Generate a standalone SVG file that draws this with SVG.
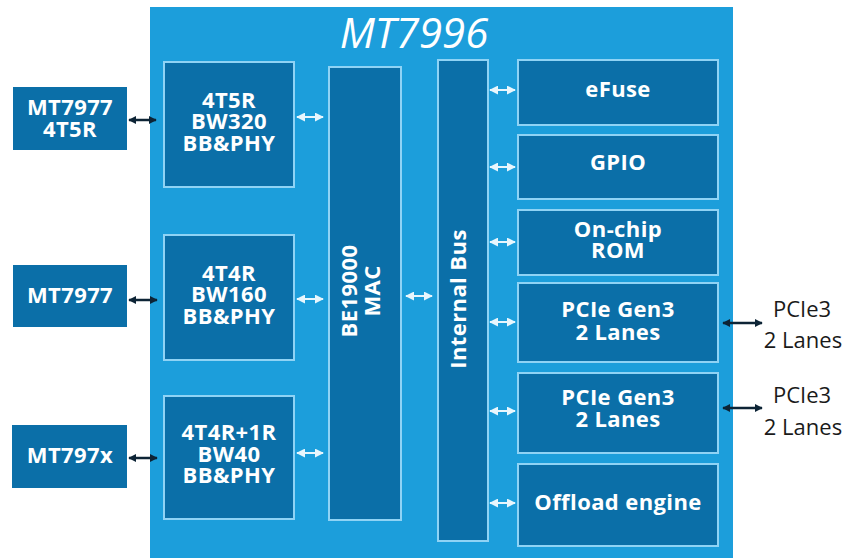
<svg xmlns="http://www.w3.org/2000/svg" width="847" height="558" viewBox="0 0 847 558">
<defs>
<marker id="wh" viewBox="0 0 10 10" refX="9" refY="5" markerWidth="4.5" markerHeight="4.5" orient="auto-start-reverse" markerUnits="strokeWidth">
<path d="M0,0 L10,5 L0,10 Z" fill="#e8f6fd"/>
</marker>
<marker id="bh" viewBox="0 0 10 10" refX="9" refY="5" markerWidth="3.2" markerHeight="3.2" orient="auto-start-reverse" markerUnits="strokeWidth">
<path d="M0,0 L10,5 L0,10 Z" fill="#0d2436"/>
</marker>
</defs>
<style>
.chip{fill:#1c9edb}
.blk{fill:#0b6fa8;stroke:#8fd3f5;stroke-width:2}
.ext{fill:#0b6fa8}
.t{font-family:"Open Sans","Liberation Sans",sans-serif;font-weight:bold;font-size:22px;letter-spacing:0.4px;fill:#ffffff;text-anchor:middle}
.title{font-family:"Open Sans","Liberation Sans",sans-serif;font-style:italic;font-size:42px;fill:#ffffff;text-anchor:middle}
.lbl{font-family:"Open Sans","Liberation Sans",sans-serif;font-size:22px;fill:#1a1a1a;text-anchor:middle}
.wa{stroke:#e8f6fd;stroke-width:2;fill:none;marker-start:url(#wh);marker-end:url(#wh)}
.ba{stroke:#0d2436;stroke-width:2.5;fill:none;marker-start:url(#bh);marker-end:url(#bh)}
</style>
<rect width="847" height="558" fill="#ffffff"/>
<g id="chip">
<rect class="chip" x="150" y="7" width="583" height="551"/>
<text class="title" x="414" y="48">MT7996</text>
</g>
<g id="ext1"><rect class="ext" x="13" y="87" width="114" height="63"/><text class="t" x="70" y="115">MT7977</text><text class="t" x="70" y="137">4T5R</text></g>
<g id="ext2"><rect class="ext" x="13" y="265" width="114" height="62"/><text class="t" x="70" y="303">MT7977</text></g>
<g id="ext3"><rect class="ext" x="12" y="425" width="115" height="63"/><text class="t" x="70" y="463">MT797x</text></g>
<g id="phy1"><rect class="blk" x="164" y="62" width="130" height="125"/><text class="t" x="229" y="108">4T5R</text><text class="t" x="229" y="129">BW320</text><text class="t" x="229" y="151">BB&amp;PHY</text></g>
<g id="phy2"><rect class="blk" x="164" y="235" width="130" height="125"/><text class="t" x="229" y="281">4T4R</text><text class="t" x="229" y="302">BW160</text><text class="t" x="229" y="324">BB&amp;PHY</text></g>
<g id="phy3"><rect class="blk" x="164" y="396" width="130" height="123"/><text class="t" x="229" y="440">4T4R+1R</text><text class="t" x="229" y="462">BW40</text><text class="t" x="229" y="483">BB&amp;PHY</text></g>
<g id="mac"><rect class="blk" x="329" y="67" width="72" height="453"/><text class="t" transform="translate(357,291) rotate(-90)" x="0" y="0">BE19000</text><text class="t" transform="translate(380,291) rotate(-90)" x="0" y="0">MAC</text></g>
<g id="bus"><rect class="blk" x="438" y="60" width="50" height="481"/><text class="t" transform="translate(466,299) rotate(-90)" x="0" y="0">Internal Bus</text></g>
<g id="efuse"><rect class="blk" x="518" y="60" width="200" height="65"/><text class="t" x="618" y="97">eFuse</text></g>
<g id="gpio"><rect class="blk" x="518" y="135" width="200" height="64"/><text class="t" x="618" y="170">GPIO</text></g>
<g id="rom"><rect class="blk" x="518" y="210" width="200" height="65"/><text class="t" x="618" y="237">On-chip</text><text class="t" x="618" y="258">ROM</text></g>
<g id="pcie1"><rect class="blk" x="518" y="283" width="200" height="79"/><text class="t" x="618" y="317">PCIe Gen3</text><text class="t" x="618" y="340">2 Lanes</text></g>
<g id="pcie2"><rect class="blk" x="518" y="373" width="200" height="80"/><text class="t" x="618" y="405">PCIe Gen3</text><text class="t" x="618" y="427">2 Lanes</text></g>
<g id="offload"><rect class="blk" x="518" y="464" width="200" height="82"/><text class="t" x="618" y="510">Offload engine</text></g>
<g id="labels">
<text class="lbl" x="802" y="317">PCIe3</text><text class="lbl" x="803" y="348">2 Lanes</text>
<text class="lbl" x="802" y="403">PCIe3</text><text class="lbl" x="803" y="435">2 Lanes</text>
</g>
<g id="connectors">
<line class="ba" x1="129" y1="120" x2="156" y2="120"/>
<line class="ba" x1="129" y1="300" x2="157" y2="300"/>
<line class="ba" x1="129" y1="458" x2="157" y2="458"/>
<line class="wa" x1="297" y1="117" x2="323" y2="117"/>
<line class="wa" x1="297" y1="299" x2="323" y2="299"/>
<line class="wa" x1="297" y1="453" x2="323" y2="453"/>
<line class="wa" x1="406" y1="296" x2="432" y2="296"/>
<line class="wa" x1="490" y1="90" x2="515" y2="90"/>
<line class="wa" x1="490" y1="167" x2="515" y2="167"/>
<line class="wa" x1="490" y1="242" x2="515" y2="242"/>
<line class="wa" x1="490" y1="322" x2="515" y2="322"/>
<line class="wa" x1="490" y1="411" x2="515" y2="411"/>
<line class="wa" x1="490" y1="503" x2="515" y2="503"/>
<line class="ba" x1="723" y1="323" x2="762" y2="323"/>
<line class="ba" x1="723" y1="408" x2="762" y2="408"/>
</g>
</svg>
